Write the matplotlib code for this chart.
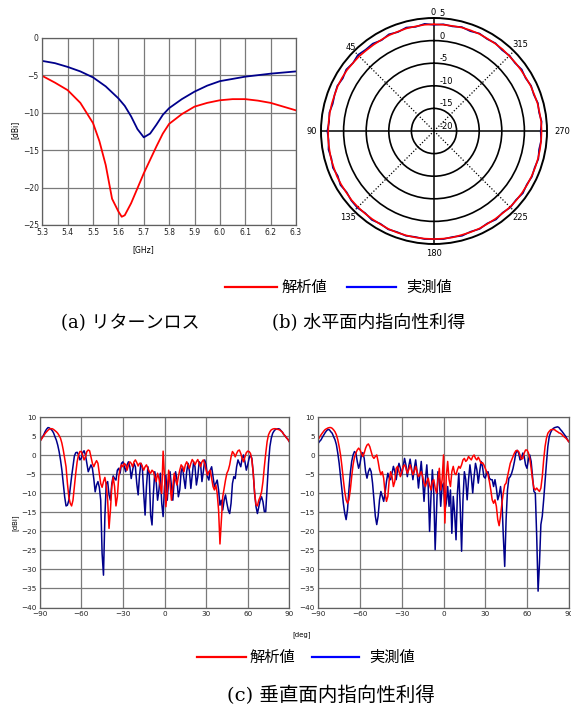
import numpy as np
import matplotlib
matplotlib.use("Agg")
import matplotlib.pyplot as plt
from matplotlib.lines import Line2D
from matplotlib.transforms import ScaledTranslation

plt.rcParams['font.family'] = ['DejaVu Sans', 'Noto Sans CJK JP']

# ---------------- data ----------------
# (a) return loss
rl_freq = [5.3, 5.35, 5.4, 5.45, 5.5, 5.525, 5.55, 5.575, 5.6, 5.613, 5.625, 5.65, 5.675, 5.7,
           5.725, 5.75, 5.775, 5.8, 5.85, 5.9, 5.95, 6.0, 6.05, 6.1, 6.15, 6.2, 6.25, 6.3]
rl_sim = [-5.1, -6.0, -7.0, -8.7, -11.4, -13.8, -17.0, -21.5, -23.2, -23.9, -23.7, -22.1, -20.1, -18.1,
          -16.3, -14.5, -12.8, -11.5, -10.2, -9.2, -8.7, -8.35, -8.2, -8.2, -8.4, -8.7, -9.2, -9.7]
rl_freq_meas = [5.3, 5.35, 5.4, 5.45, 5.5, 5.55, 5.6, 5.625, 5.65, 5.675, 5.7, 5.725, 5.75, 5.775,
                5.8, 5.85, 5.9, 5.95, 6.0, 6.05, 6.1, 6.15, 6.2, 6.25, 6.3]
rl_meas = [-3.1, -3.4, -3.9, -4.5, -5.3, -6.5, -8.1, -9.1, -10.5, -12.2, -13.3, -12.8, -11.6, -10.3,
           -9.4, -8.2, -7.2, -6.4, -5.8, -5.5, -5.2, -5.0, -4.8, -4.65, -4.5]
rl_xticks = [5.3, 5.4, 5.5, 5.6, 5.7, 5.8, 5.9, 6.0, 6.1, 6.2, 6.3]
rl_yticks = [0, -5, -10, -15, -20, -25]

# (b) horizontal pattern, every 5 deg from 0 to 355
h_step = 5
h_sim = [3.6, 3.6, 3.5, 3.5, 3.4, 3.4, 3.3, 3.3, 3.3, 3.4, 3.4, 3.5, 3.5, 3.5, 3.4, 3.4, 3.4, 3.4,
         3.4, 3.5, 3.5, 3.6, 3.6, 3.7, 3.7, 3.7, 3.8, 3.8, 3.8, 3.8, 3.8, 3.9, 3.9, 3.9, 3.9, 3.9,
         3.9, 3.9, 3.9, 3.8, 3.8, 3.8, 3.7, 3.7, 3.7, 3.8, 3.8, 3.8, 3.8, 3.8, 3.8, 3.8, 3.8, 3.8,
         3.8, 3.8, 3.7, 3.7, 3.6, 3.6, 3.5, 3.5, 3.5, 3.5, 3.6, 3.6, 3.6, 3.7, 3.7, 3.7, 3.6, 3.6]
h_meas = [3.5, 3.8, 3.4, 3.7, 3.3, 3.6, 3.2, 3.6, 3.5, 3.8, 3.4, 3.7, 3.3, 3.6, 3.4, 3.2, 3.5, 3.3,
          3.6, 3.4, 3.7, 3.5, 3.8, 3.5, 3.9, 3.6, 3.9, 4.0, 3.7, 4.0, 3.7, 4.0, 3.8, 4.0, 3.8, 4.0,
          3.9, 4.0, 3.8, 4.0, 3.7, 3.9, 3.6, 3.9, 3.6, 3.9, 3.7, 4.0, 3.7, 3.9, 3.7, 3.9, 3.6, 3.8,
          3.6, 3.9, 3.6, 3.8, 3.5, 3.7, 3.4, 3.7, 3.4, 3.6, 3.4, 3.7, 3.5, 3.8, 3.5, 3.8, 3.5, 3.7]
ring_vals = [-15, -10, -5, 0]
ring_labels = ['5', '0', '-5', '-10', '-15', '-20']
ring_label_r = [5, 0, -5, -10, -15, -20]

# (c) vertical patterns, every 1 deg from -90 to 90
v_deg = list(range(-90, 91))
v1_sim = [3.6, 4.1, 4.7, 5.2, 5.8, 6.2, 6.6, 6.9, 7.0, 7.0, 6.8, 6.5, 6.2, 5.8, 5.2, 4.5, 3.2, 1.4, -0.8, -3.0,
          -7.4, -10.9, -12.6, -13.3, -11.8, -8.2, -4.7, -1.7, 0.1, 1.0, 1.0, 0.0, -1.2, -0.4, 1.0, 1.4, 1.2, -0.4,
          -2.1, -3.0, -2.1, -1.4, -2.1, -4.7, -7.4, -8.4, -6.9, -5.8, -7.8, -11.8, -19.2, -14.4, -8.2, -5.8,
          -8.2, -13.3, -10.9, -5.6, -3.4, -2.5, -3.0, -2.1, -2.5, -3.9, -2.5, -1.7, -2.1, -3.0, -1.7, -1.2,
          -1.9, -2.8, -2.1, -2.1, -3.0, -3.9, -3.0, -2.5, -3.4, -4.3, -4.7, -3.9, -4.3, -5.6, -6.9, -4.7,
          -6.1, -8.2, -10.0, 1.1, -5.6, -13.5, -9.1, -3.9, -7.4, -11.8, -8.2, -4.7, -6.5, -7.8, -5.6, -3.9,
          -2.5, -3.0, -4.3, -2.5, -1.7, -2.5, -3.4, -2.1, -1.1, -1.7, -2.5, -1.7, -1.1, -2.1, -3.0, -1.7,
          -1.2, -2.1, -3.9, -5.2, -4.3, -3.9, -6.1, -8.2, -9.1, -7.8, -10.0, -14.4, -23.3, -17.0, -10.9,
          -8.7, -6.5, -4.7, -3.9, -2.5, -0.4, 1.0, 0.5, -0.4, 0.5, 1.2, 1.4, 0.5, -0.8, -1.7, -0.4, 0.7,
          1.1, 1.0, 0.5, -1.2, -4.7, -10.0, -13.0, -13.3, -11.8, -10.9, -9.6, -6.9, -3.0, 0.5, 3.6, 5.4,
          6.2, 6.7, 6.9, 7.0, 7.0, 6.9, 6.8, 6.7, 6.4, 6.1, 5.5, 5.1, 4.6, 4.2, 3.6]
v1_meas = [3.6, 4.2, 4.8, 5.5, 6.3, 6.9, 7.3, 7.2, 6.9, 6.5, 5.9, 4.9, 4.0, 2.7, 1.0, -1.2, -3.9, -7.4,
           -10.9, -13.3, -13.1, -11.8, -8.7, -5.6, -3.0, -0.2, 0.7, 0.8, 0.1, -1.2, -0.8, 0.7, 1.2, 0.1,
           -2.1, -4.3, -3.4, -2.5, -3.4, -6.1, -9.6, -7.8, -6.9, -8.4, -11.8, -25.8, -31.5, -16.1, -7.4,
           -6.9, -10.4, -11.8, -7.4, -5.4, -6.1, -6.5, -3.9, -3.4, -4.7, -2.1, -1.7, -3.0, -4.3, -2.5,
           -1.7, -3.0, -6.1, -3.9, -2.1, -3.0, -7.4, -10.4, -5.2, -2.1, -3.0, -10.0, -15.7, -8.2, -3.0,
           -5.2, -15.7, -18.3, -10.0, -4.3, -6.9, -11.8, -9.1, -4.7, -12.6, -16.1, -8.2, -5.2, -11.8,
           -6.5, -4.3, -8.2, -11.8, -6.5, -4.3, -6.5, -10.9, -9.1, -4.3, -3.0, -6.1, -8.7, -4.3, -2.1,
           -4.3, -8.7, -5.2, -1.7, -3.0, -7.8, -5.6, -1.7, -2.1, -6.9, -4.3, -1.2, -2.5, -5.6, -6.5,
           -3.9, -3.0, -5.6, -8.2, -7.4, -6.5, -9.1, -13.1, -11.8, -14.4, -11.8, -10.4, -12.6, -14.4,
           -15.3, -12.6, -7.4, -5.6, -6.1, -3.0, -1.2, -2.1, -3.0, -0.8, 0.1, -1.7, -3.9, -2.5, -0.8,
           0.1, -0.8, -4.7, -10.0, -13.5, -15.3, -13.5, -11.8, -10.9, -12.2, -14.8, -14.8, -8.2, -2.1,
           2.3, 4.5, 5.8, 6.4, 6.8, 6.9, 7.0, 6.9, 6.5, 6.1, 5.5, 5.1, 4.6, 4.2, 3.6]
v2_sim = [4.2, 4.8, 5.4, 5.9, 6.4, 6.8, 7.0, 7.2, 7.3, 7.3, 7.1, 6.7, 6.2, 5.4, 4.1, 2.3, 0.1, -2.9, -6.4,
          -9.5, -11.7, -12.6, -11.7, -9.1, -5.6, -2.5, -0.5, 0.6, 1.4, 1.9, 1.4, 0.6, -0.3, 0.6, 1.9, 2.7,
          3.0, 2.3, 1.0, -0.3, -0.8, -0.3, 0.1, -1.6, -3.8, -5.1, -4.3, -6.0, -9.9, -12.1, -10.8, -6.4,
          -4.3, -5.6, -8.2, -6.9, -3.4, -2.9, -4.3, -5.6, -4.3, -2.9, -2.5, -3.4, -4.7, -3.8, -2.5, -3.8,
          -5.1, -4.3, -2.9, -4.3, -5.6, -5.1, -4.3, -5.6, -7.3, -8.2, -6.9, -6.0, -7.8, -9.1, -6.9, -6.4,
          -8.6, -9.9, -6.4, -3.4, -9.1, -6.4, 0.1, -17.8, -5.6, -1.6, -6.4, -8.2, -4.3, -2.9, -4.7, -5.1,
          -3.8, -2.9, -3.4, -2.5, -1.2, -0.8, -1.6, -1.2, -0.3, -0.8, -1.2, -0.3, 0.1, -0.8, -1.2, -0.5,
          -1.2, -2.1, -1.9, -2.5, -3.4, -4.3, -5.1, -6.9, -9.1, -11.7, -12.6, -11.7, -13.4, -16.9, -18.5,
          -16.0, -12.6, -9.9, -7.8, -7.3, -5.6, -3.8, -2.1, -1.2, -0.3, 0.6, 1.2, 1.3, 1.0, 0.1, -1.0,
          -0.8, 0.6, 1.4, 1.4, 0.7, -0.8, -3.4, -6.4, -8.6, -9.1, -8.6, -9.1, -9.5, -8.6, -5.6, -1.2, 2.3,
          4.5, 5.8, 6.3, 6.7, 6.8, 6.8, 6.7, 6.4, 6.2, 5.9, 5.8, 5.5, 5.1, 4.8, 4.5, 4.1, 3.6]
v2_meas = [3.2, 3.7, 4.1, 4.8, 5.4, 6.0, 6.5, 6.8, 6.7, 6.2, 5.8, 4.9, 4.1, 2.8, 0.6, -2.1, -5.6, -9.1,
           -12.6, -15.2, -16.9, -14.3, -9.1, -4.7, -1.6, 0.1, 1.0, 0.6, -1.6, -3.4, -2.1, 0.1, 0.7, -0.8,
           -4.3, -6.0, -4.3, -3.4, -4.3, -7.3, -11.7, -16.0, -18.2, -16.0, -11.7, -9.5, -10.8, -12.1,
           -9.9, -6.9, -4.7, -6.0, -6.4, -4.7, -2.9, -4.3, -6.4, -3.8, -2.1, -3.4, -5.1, -2.9, -0.8,
           -2.5, -5.6, -2.9, -1.0, -3.4, -6.4, -3.4, -1.2, -4.3, -8.6, -5.1, -1.6, -6.4, -12.1, -6.4,
           -2.5, -8.2, -20.0, -10.8, -3.8, -9.9, -24.8, -14.3, -4.3, -6.4, -13.4, -8.2, -7.3, -14.3,
           -12.6, -8.2, -13.4, -9.1, -20.5, -10.8, -15.2, -22.2, -9.9, -4.7, -13.4, -25.2, -11.7, -4.3,
           -6.4, -11.7, -6.4, -2.5, -5.6, -9.9, -5.6, -2.1, -3.8, -7.3, -4.3, -1.6, -2.9, -5.6, -6.0,
           -4.7, -4.3, -6.0, -6.4, -6.4, -8.2, -6.4, -8.6, -11.7, -10.4, -8.2, -11.7, -21.3, -29.2,
           -16.9, -9.1, -6.0, -5.6, -4.7, -3.4, -1.6, 0.6, 1.3, 0.6, -1.2, -1.0, 0.6, -0.3, -2.5, -3.4,
           -1.2, 0.1, -1.6, -5.6, -9.5, -9.9, -21.3, -35.7, -28.3, -18.2, -16.0, -11.7, -6.9, -2.1, 2.3,
           4.9, 6.0, 6.7, 7.1, 7.3, 7.4, 7.5, 7.3, 6.8, 6.4, 5.9, 5.4, 4.9, 4.2, 3.6]
v_xticks = [-90, -60, -30, 0, 30, 60, 90]
v_yticks = [10, 5, 0, -5, -10, -15, -20, -25, -30, -35, -40]

legend_labels = ['解析値', '実測値']
captions = ['(a) リターンロス', '(b) 水平面内指向性利得', '(c) 垂直面内指向性利得']

RED = '#ff0000'
NAVY = '#00008b'
LEG_BLUE = '#0000ff'
GRID = '#7a7a7a'

W, H = 571, 706
fig = plt.figure(figsize=(W / 100, H / 100), dpi=100)


def fx(px):
    return px / W


def fy(py):
    return 1 - py / H


def style_cart(ax):
    ax.grid(True, color=GRID, lw=0.9)
    ax.set_axisbelow(True)
    for s in ax.spines.values():
        s.set_color('#606060')
        s.set_linewidth(0.9)
    ax.tick_params(length=0, labelsize=5.5, pad=2.5, colors='#222222')


# ---------- (a) return loss ----------
ax1 = fig.add_axes([fx(42.3), fy(225), fx(296) - fx(42.3), fy(37.7) - fy(225)])
ax1.plot(rl_freq, rl_sim, color=RED, lw=1.3)
ax1.plot(rl_freq_meas, rl_meas, color=NAVY, lw=1.3)
ax1.set_xlim(5.3, 6.3)
ax1.set_ylim(-25, 0)
ax1.set_xticks(rl_xticks)
ax1.set_xticklabels([f"{v:.1f}" for v in rl_xticks])
ax1.set_yticks(rl_yticks)
style_cart(ax1)
fig.text(fx(143), fy(250), '[GHz]', fontsize=5.5, ha='center', va='center')
fig.text(fx(15), fy(130), '[dBi]', fontsize=5.5, ha='center', va='center', rotation=90)

# ---------- (b) horizontal polar ----------
cx, cy, R = 434, 131, 113
axp = fig.add_axes([fx(cx - R), fy(cy + R), fx(2 * R), (2 * R) / H], projection='polar')
axp.set_theta_zero_location('N')
axp.set_theta_direction(1)
axp.set_ylim(-20, 5)
axp.set_rgrids(ring_vals, labels=[''] * len(ring_vals))
axp.set_thetagrids([0, 90, 180, 270], labels=[''] * 4)
axp.xaxis.grid(True, color='black', lw=1.1, ls='-')
axp.yaxis.grid(True, color='black', lw=1.2, ls='-')
axp.spines['polar'].set_color('black')
axp.spines['polar'].set_linewidth(1.4)
for d in [45, 135, 225, 315]:
    axp.plot([np.deg2rad(d)] * 2, [-20, 5], color='black', lw=0.9, ls=(0, (1, 1.5)))
th = np.deg2rad(np.arange(len(h_sim)) * h_step)
th_c = np.append(th, th[0])
axp.plot(th_c, np.append(h_meas, h_meas[0]), color=NAVY, lw=1.2)
axp.plot(th_c, np.append(h_sim, h_sim[0]), color=RED, lw=1.2)
off = ScaledTranslation(4 / 72, 0, fig.dpi_scale_trans)
for lab, rv in zip(ring_labels, ring_label_r):
    axp.text(0, rv, lab, fontsize=6, ha='left', va='bottom',
             transform=axp.transData + off, clip_on=False)
ang_labels = [('45', 45, 6.1), ('90', 90, 7.1), ('135', 135, 7.0),
              ('180', 180, 7.1), ('225', 225, 7.0), ('270', 270, 8.3), ('315', 315, 7.0)]
for lab, d, rr in ang_labels:
    axp.text(np.deg2rad(d), rr, lab, fontsize=6, ha='center', va='center', clip_on=False)
off0 = ScaledTranslation(-0.5 / 72, 0, fig.dpi_scale_trans)
axp.text(0, 5.15, '0', fontsize=6, ha='center', va='bottom',
         transform=axp.transData + off0, clip_on=False)

# ---------- legends & captions ----------
def legend(y, xr, xb):
    fig.add_artist(Line2D([fx(xr[0]), fx(xr[1])], [fy(y), fy(y)], color=RED, lw=1.6))
    fig.text(fx(xr[2]), fy(y), legend_labels[0], fontsize=11, ha='left', va='center')
    fig.add_artist(Line2D([fx(xb[0]), fx(xb[1])], [fy(y), fy(y)], color=LEG_BLUE, lw=1.6))
    fig.text(fx(xb[2]), fy(y), legend_labels[1], fontsize=11, ha='left', va='center')


legend(287, (225, 277, 282), (347, 396, 406))
cap_fam = ['DejaVu Serif', 'Noto Sans CJK JP']
fig.text(fx(130), fy(323), captions[0], fontsize=13, ha='center', va='center', family=cap_fam)
fig.text(fx(369), fy(323), captions[1], fontsize=13, ha='center', va='center', family=cap_fam)

# ---------- (c) vertical patterns ----------
b_bottom, b_top = 607.5, 417.3
axL = fig.add_axes([fx(39.7), fy(b_bottom), fx(289.3) - fx(39.7), fy(b_top) - fy(b_bottom)])
axR = fig.add_axes([fx(318.3), fy(b_bottom), fx(568.7) - fx(318.3), fy(b_top) - fy(b_bottom)])
for ax, sim, meas in [(axL, v1_sim, v1_meas), (axR, v2_sim, v2_meas)]:
    ax.plot(v_deg, meas, color=NAVY, lw=1.1)
    ax.plot(v_deg, sim, color=RED, lw=1.1)
    ax.set_xlim(-90, 90)
    ax.set_ylim(-40, 10)
    ax.set_xticks(v_xticks)
    ax.set_yticks(v_yticks)
    style_cart(ax)
    ax.tick_params(labelsize=5.2)
fig.text(fx(15), fy(523), '[dBi]', fontsize=5, ha='center', va='center', rotation=90)
fig.text(fx(302), fy(635), '[deg]', fontsize=5, ha='center', va='center')

legend(657, (197, 246, 250), (312, 359, 369))
fig.text(fx(331), fy(695), captions[2], fontsize=14, ha='center', va='center', family=cap_fam)

fig.savefig('out.png', dpi=100)
